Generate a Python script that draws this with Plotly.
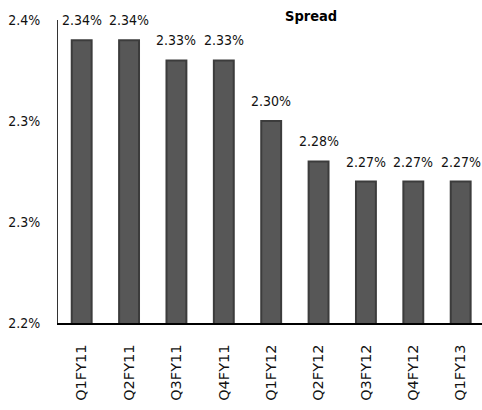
import plotly.graph_objects as go

categories = ["Q1FY11", "Q2FY11", "Q3FY11", "Q4FY11", "Q1FY12", "Q2FY12", "Q3FY12", "Q4FY12", "Q1FY13"]
spread = [2.34, 2.34, 2.33, 2.33, 2.30, 2.28, 2.27, 2.27, 2.27]
labels = ["2.34%", "2.34%", "2.33%", "2.33%", "2.30%", "2.28%", "2.27%", "2.27%", "2.27%"]
tick_vals = [2.20, 2.25, 2.30, 2.35]
tick_text = ["2.2%", "2.3%", "2.3%", "2.4%"]

num_font = "DejaVu Sans Condensed"

fig = go.Figure(go.Bar(
    x=categories,
    y=spread,
    base=0,
    width=0.42,
    marker=dict(color="#575757", line=dict(color="#3c3c3c", width=2)),
    cliponaxis=False,
))

for c, v, t in zip(categories, spread, labels):
    fig.add_annotation(x=c, y=v, text=t, showarrow=False, yanchor="bottom", yshift=10,
                       font=dict(family=num_font, size=14, color="#111111"))

fig.update_layout(
    width=482, height=410,
    margin=dict(l=58, r=0, t=20, b=87),
    paper_bgcolor="white", plot_bgcolor="white",
    showlegend=False,
    title=dict(text="<b>Spread</b>", xref="paper", x=0.597, xanchor="center", y=0.962, yanchor="middle",
               font=dict(family="DejaVu Sans Condensed, DejaVu Sans, sans-serif", size=14.5, color="#000000")),
    xaxis=dict(
        range=[-0.5, 8.45],
        showline=True, linecolor="#000000", linewidth=1.5,
        tickangle=-90, ticks="",
        tickfont=dict(family="DejaVu Sans, Verdana, sans-serif", size=14.5, color="#111111"),
        showgrid=False,
        ticklabelstandoff=14,
    ),
    yaxis=dict(
        range=[2.2, 2.35],
        tickvals=tick_vals, ticktext=tick_text,
        showline=True, linecolor="#333333", linewidth=1,
        ticks="", showgrid=False, zeroline=False,
        tickfont=dict(family=num_font, size=14, color="#111111"),
        ticklabelstandoff=14,
    ),
)

fig.write_html("out.html")
